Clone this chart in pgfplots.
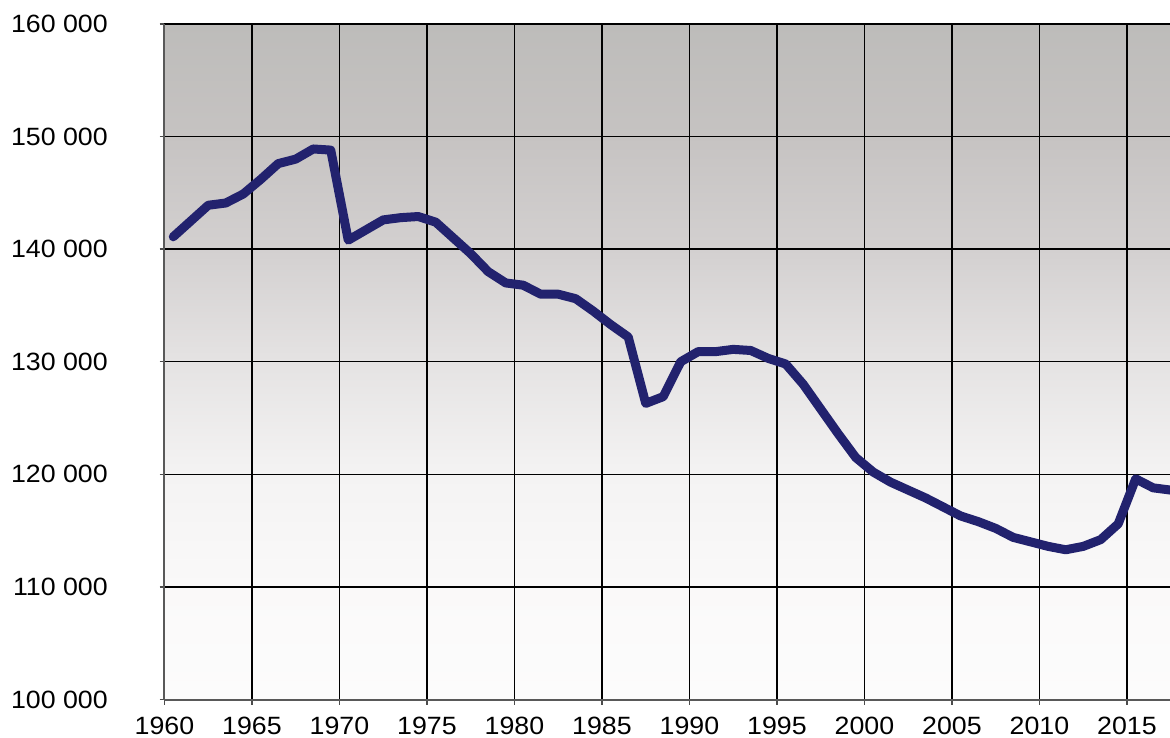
\documentclass[border=0pt]{standalone}
\usepackage{fontspec}
\setmainfont{Liberation Sans}[FakeStretch=1.07]
\usepackage{pgfplots}
\pgfplotsset{compat=1.18}
\definecolor{linecol}{RGB}{34,34,110}
\definecolor{cA}{RGB}{252,252,252}
\definecolor{cB}{RGB}{250,249,249}
\definecolor{cC}{RGB}{244,243,243}
\definecolor{cD}{RGB}{229,227,227}
\definecolor{cE}{RGB}{211,208,208}
\definecolor{cF}{RGB}{198,195,194}
\definecolor{cG}{RGB}{189,188,186}
\pgfdeclareverticalshading{bgshade}{100bp}{color(0bp)=(cA); color(25bp)=(cA); color(33.33bp)=(cB); color(41.67bp)=(cC); color(50bp)=(cD); color(58.33bp)=(cE); color(66.67bp)=(cF); color(75bp)=(cG); color(100bp)=(cG)}
\begin{document}
\fontsize{12.5bp}{14bp}\selectfont
\begin{tikzpicture}
\useasboundingbox (-82.25bp,-19.25bp) rectangle (502.75bp,349.75bp);
\begin{axis}[
  at={(0,0)}, anchor=south west, scale only axis,
  width=502.75bp, height=337.75bp,
  xmin=1960, xmax=2017.46, ymin=100000, ymax=160000,
  xtick={1960,1965,...,2015}, ytick={100000,110000,...,160000},
  xticklabels={1960,1965,1970,1975,1980,1985,1990,1995,2000,2005,2010,2015},
  yticklabels={100\ 000,110\ 000,120\ 000,130\ 000,140\ 000,150\ 000,160\ 000},
  grid=major, major grid style={black, line width=0.7bp},
  axis x line*=bottom, axis y line*=left, axis line style={-, gray!70!black, line width=1bp},
  tick align=outside, major tick length=2.5bp, tick style={gray!60!black, line width=0.7bp},
  axis background/.style={shading=bgshade},
  scaled y ticks=false,
  yticklabel style={xshift=-21.5bp},
  xticklabel style={yshift=-2bp},
  clip=true,
]
\addplot[linecol, line width=4.5bp, line join=round, line cap=round] coordinates {
(1960.5,141100) (1961.5,142500) (1962.5,143900) (1963.5,144100) (1964.5,144900)
(1965.5,146200) (1966.5,147600) (1967.5,148000) (1968.5,148900) (1969.5,148800)
(1970.5,140800) (1971.5,141700) (1972.5,142600) (1973.5,142800) (1974.5,142900)
(1975.5,142400) (1976.5,141000) (1977.5,139600) (1978.5,138000) (1979.5,137000)
(1980.5,136800) (1981.5,136000) (1982.5,136000) (1983.5,135600) (1984.5,134500)
(1985.5,133300) (1986.5,132200) (1987.5,126300) (1988.5,126900) (1989.5,130000)
(1990.5,130900) (1991.5,130900) (1992.5,131100) (1993.5,131000) (1994.5,130300)
(1995.5,129800) (1996.5,128000) (1997.5,125800) (1998.5,123600) (1999.5,121500)
(2000.5,120200) (2001.5,119300) (2002.5,118600) (2003.5,117900) (2004.5,117100)
(2005.5,116300) (2006.5,115800) (2007.5,115200) (2008.5,114400) (2009.5,114000)
(2010.5,113600) (2011.5,113300) (2012.5,113600) (2013.5,114200) (2014.5,115600)
(2015.5,119600) (2016.5,118800) (2017.5,118600)
};
\end{axis}
\end{tikzpicture}
\end{document}
